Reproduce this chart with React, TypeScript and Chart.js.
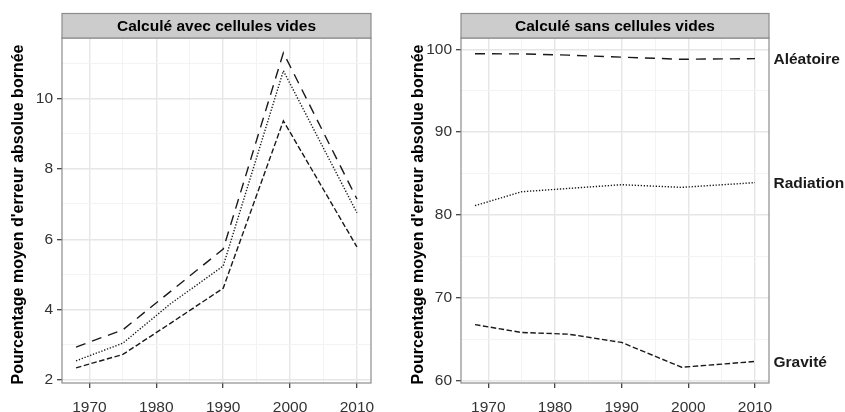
import React, { useEffect, useRef } from "react";
import { Chart, registerables } from "chart.js";

Chart.register(...registerables);

const years = [1968, 1975, 1982, 1990, 1999, 2010];
const seriesNames = ["Aléatoire", "Radiation", "Gravité"];

const leftTitle = "Calculé avec cellules vides";
const leftAleatoire = [2.94, 3.43, 4.5, 5.72, 11.29, 7.14];
const leftRadiation = [2.55, 3.05, 4.15, 5.24, 10.78, 6.75];
const leftGravite = [2.35, 2.73, 3.6, 4.61, 9.36, 5.78];

const rightTitle = "Calculé sans cellules vides";
const rightAleatoire = [99.47, 99.45, 99.3, 99.06, 98.8, 98.88];
const rightRadiation = [81.12, 82.8, 83.2, 83.65, 83.33, 83.9];
const rightGravite = [66.75, 65.8, 65.6, 64.6, 61.6, 62.3];

const xTicks = [1970, 1975, 1980, 1985, 1990, 1995, 2000, 2005, 2010];
const leftYTicks = [2, 3, 4, 5, 6, 7, 8, 9, 10, 11];
const rightYTicks = [60, 65, 70, 75, 80, 85, 90, 95, 100];

const yTitle = "Pourcentage moyen d'erreur absolue bornée";

const FONT = "'Liberation Sans', Arial, Helvetica, sans-serif";
const dashes = [[10, 7], [1.3, 1.7], [5.5, 2.5]];

type PanelOpts = {
  title: string;
  values: number[][];
  yTicks: number[];
  yMajor: number;
  yMin: number;
  yMax: number;
  yWidth: number;
  padRight: number;
  endLabels: boolean;
};

function makeChart(canvas: HTMLCanvasElement, o: PanelOpts) {
  const panelPlugin = {
    id: "panelDecor",
    afterDatasetsDraw(chart: any) {
      const { ctx, chartArea } = chart;
      const { left, right, top, bottom } = chartArea;
      ctx.save();
      ctx.strokeStyle = "#8C8C8C";
      ctx.lineWidth = 1.2;
      ctx.strokeRect(left, top, right - left, bottom - top);
      // strip
      const sTop = top - 24.5;
      ctx.fillStyle = "#CCCCCC";
      ctx.fillRect(left, sTop, right - left, 24.5);
      ctx.strokeRect(left, sTop, right - left, 24.5);
      ctx.fillStyle = "#000";
      ctx.font = `bold 15.5px ${FONT}`;
      ctx.textAlign = "center";
      ctx.textBaseline = "middle";
      ctx.fillText(o.title, (left + right) / 2, sTop + 13);
      // y axis title
      ctx.save();
      ctx.font = `bold 16px ${FONT}`;
      ctx.translate(19, 214.5);
      ctx.rotate(-Math.PI / 2);
      ctx.fillText(yTitle, 0, 0);
      ctx.restore();
      if (o.endLabels) {
        const yScale = chart.scales.y;
        ctx.font = `bold 15.5px ${FONT}`;
        ctx.textAlign = "left";
        ctx.fillStyle = "#1a1a1a";
        o.values.forEach((vals, i) => {
          const y = yScale.getPixelForValue(vals[vals.length - 1]);
          ctx.fillText(seriesNames[i], right + 4.5, y + 1.5);
        });
      }
      ctx.restore();
    },
  };

  return new Chart(canvas, {
    type: "line",
    data: {
      datasets: o.values.map((vals, i) => ({
        label: seriesNames[i],
        data: years.map((yr, j) => ({ x: yr, y: vals[j] })),
        borderColor: "#1a1a1a",
        borderWidth: 1.4,
        borderDash: dashes[i],
        pointRadius: 0,
        fill: false,
        tension: 0,
      })),
    },
    options: {
      animation: false,
      responsive: false,
      devicePixelRatio: 1,
      layout: { padding: { top: 38, right: o.padRight, left: 0, bottom: 0 } },
      plugins: { legend: { display: false }, tooltip: { enabled: false } },
      scales: {
        x: {
          type: "linear",
          min: 1965.9,
          max: 2012.1,
          afterBuildTicks: (s: any) => {
            s.ticks = xTicks.map((v) => ({ value: v }));
          },
          afterFit: (s: any) => {
            s.height = 29;
          },
          border: { display: false },
          grid: {
            color: (c: any) => (c.tick && c.tick.value % 10 === 0 ? "#E6E6E6" : "#F3F3F3"),
            lineWidth: (c: any) => (c.tick && c.tick.value % 10 === 0 ? 1.4 : 1),
            tickColor: (c: any) => (c.tick && c.tick.value % 10 === 0 ? "#333" : "rgba(0,0,0,0)"),
            tickWidth: 1.2,
            tickLength: 5,
          },
          ticks: {
            autoSkip: false,
            maxRotation: 0,
            padding: 10,
            color: "#333",
            font: { family: FONT, size: 15.5 },
            callback: (v: any) => (Number(v) % 10 === 0 ? String(v) : ""),
          },
        },
        y: {
          type: "linear",
          min: o.yMin,
          max: o.yMax,
          afterBuildTicks: (s: any) => {
            s.ticks = o.yTicks.map((v) => ({ value: v }));
          },
          afterFit: (s: any) => {
            s.width = o.yWidth;
          },
          border: { display: false },
          grid: {
            color: (c: any) => (c.tick && c.tick.value % o.yMajor === 0 ? "#E6E6E6" : "#F3F3F3"),
            lineWidth: (c: any) => (c.tick && c.tick.value % o.yMajor === 0 ? 1.4 : 1),
            tickColor: (c: any) => (c.tick && c.tick.value % o.yMajor === 0 ? "#333" : "rgba(0,0,0,0)"),
            tickWidth: 1.2,
            tickLength: 5,
          },
          ticks: {
            autoSkip: false,
            padding: 4,
            color: "#333",
            font: { family: FONT, size: 15.5 },
            callback: (v: any) => (Number(v) % o.yMajor === 0 ? String(v) : ""),
          },
          title: { display: false },
        },
      },
    },
    plugins: [panelPlugin],
  } as any);
}

function Panel(props: { opts: PanelOpts; width: number; left: number }) {
  const ref = useRef<HTMLCanvasElement | null>(null);
  useEffect(() => {
    if (!ref.current) return;
    const chart = makeChart(ref.current, props.opts);
    return () => chart.destroy();
  }, []);
  return (
    <canvas
      ref={ref}
      width={props.width}
      height={412}
      style={{ position: "absolute", left: props.left, top: 0, width: props.width, height: 412 }}
    />
  );
}

export default function App() {
  const leftOpts: PanelOpts = {
    title: leftTitle,
    values: [leftAleatoire, leftRadiation, leftGravite],
    yTicks: leftYTicks,
    yMajor: 2,
    yMin: 1.92,
    yMax: 11.71,
    yWidth: 62,
    padRight: 49,
    endLabels: false,
  };
  const rightOpts: PanelOpts = {
    title: rightTitle,
    values: [rightAleatoire, rightRadiation, rightGravite],
    yTicks: rightYTicks,
    yMajor: 10,
    yMin: 59.7,
    yMax: 101.37,
    yWidth: 61,
    padRight: 76,
    endLabels: true,
  };
  return (
    <div style={{ position: "fixed", left: 0, top: 0, width: 845, height: 412, background: "#fff", overflow: "hidden" }}>
      <Panel opts={leftOpts} width={420} left={0} />
      <Panel opts={rightOpts} width={445} left={400} />
    </div>
  );
}
